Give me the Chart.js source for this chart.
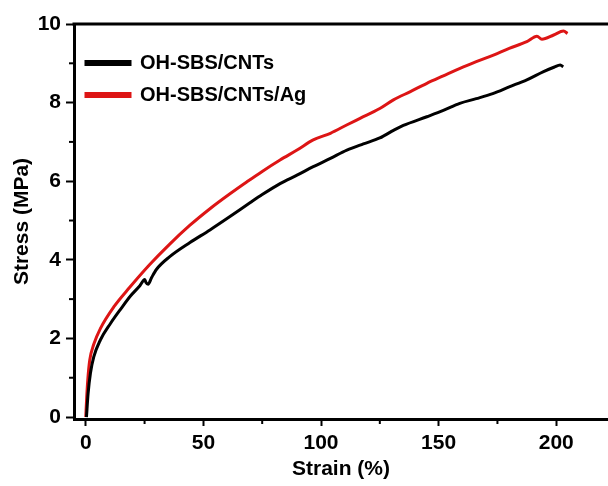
<!DOCTYPE html>
<html lang="en">
<head>
    <meta charset="UTF-8">
    <script src="https://cdn.jsdelivr.net/npm/chart.js@4.4.0/dist/chart.umd.min.js"></script>
    <title>Stress-strain</title>
    <style>
        body { margin: 0; background: #fff; }
        canvas { display: block; }
    </style>
</head>
<body>
    <canvas id="myChart" width="608" height="486"></canvas>
<script>
// curves: strain (%) and stress (MPa)
var strainCNT = [0.3, 1.0, 2.0, 3.4, 6.2, 10.5, 15, 19, 23, 25.1, 25.6, 26.5, 28, 30.1, 35.7, 44.3, 52.8, 61.3, 69.8, 75, 82.6, 90, 96.7, 104, 111, 118, 125, 131, 135, 145, 152, 159, 166, 173, 180, 187.5, 194.6, 199, 201.7, 203];
var stressCNT = [0, 0.6, 1.12, 1.53, 1.96, 2.38, 2.76, 3.08, 3.34, 3.5, 3.42, 3.38, 3.55, 3.76, 4.08, 4.44, 4.76, 5.1, 5.45, 5.66, 5.94, 6.16, 6.37, 6.58, 6.79, 6.95, 7.1, 7.3, 7.42, 7.64, 7.8, 7.98, 8.1, 8.23, 8.4, 8.58, 8.79, 8.9, 8.96, 8.91];

var strainAg = [0, 0.4, 0.85, 1.7, 3.4, 6.2, 11.9, 18.7, 27.2, 35.7, 44.3, 52.8, 61.3, 68.4, 75, 82.6, 90, 96.7, 104, 110.9, 116.6, 125, 130.8, 138, 145, 152, 159.1, 166, 173.3, 180, 187.5, 191.8, 193.9, 198.9, 203.1, 204.8];
var stressAg = [0, 0.5, 0.94, 1.45, 1.85, 2.25, 2.8, 3.3, 3.88, 4.4, 4.88, 5.3, 5.68, 5.98, 6.25, 6.54, 6.8, 7.05, 7.22, 7.43, 7.6, 7.85, 8.07, 8.28, 8.49, 8.68, 8.87, 9.04, 9.21, 9.38, 9.55, 9.69, 9.61, 9.72, 9.82, 9.76];

var xTicks = [0, 50, 100, 150, 200];
var xMinor = [25, 75, 125, 175];
var yTicks = [0, 2, 4, 6, 8, 10];
var yMinor = [1, 3, 5, 7, 9];

function toPoints(xs, ys) {
    return xs.map(function (x, i) { return { x: x, y: ys[i] }; });
}

var font = 'Liberation Sans, Arial, sans-serif';

// top border line and the short minor ticks
var framePlugin = {
    id: 'frame',
    afterDraw: function (chart) {
        var ctx = chart.ctx, a = chart.chartArea;
        var xs = chart.scales.x, ys = chart.scales.y;
        ctx.save();
        ctx.strokeStyle = '#000';
        ctx.lineWidth = 3;
        ctx.beginPath();
        ctx.moveTo(a.left - 1.5, a.top);
        ctx.lineTo(a.right, a.top);
        ctx.stroke();
        ctx.lineWidth = 2;
        xMinor.forEach(function (v) {
            var px = xs.getPixelForValue(v);
            ctx.beginPath();
            ctx.moveTo(px, a.bottom);
            ctx.lineTo(px, a.bottom + 5);
            ctx.stroke();
        });
        yMinor.forEach(function (v) {
            var py = ys.getPixelForValue(v);
            ctx.beginPath();
            ctx.moveTo(a.left, py);
            ctx.lineTo(a.left - 5, py);
            ctx.stroke();
        });
        ctx.restore();
    }
};

var ctx = document.getElementById('myChart').getContext('2d');
var chart = new Chart(ctx, {
    type: 'line',
    data: {
        datasets: [{
            label: 'OH-SBS/CNTs',
            data: toPoints(strainCNT, stressCNT),
            borderColor: '#000000',
            backgroundColor: '#000000',
            borderWidth: 3,
            pointRadius: 0,
            cubicInterpolationMode: 'monotone'
        }, {
            label: 'OH-SBS/CNTs/Ag',
            data: toPoints(strainAg, stressAg),
            borderColor: '#dd1515',
            backgroundColor: '#dd1515',
            borderWidth: 3,
            pointRadius: 0,
            cubicInterpolationMode: 'monotone'
        }]
    },
    options: {
        responsive: false,
        animation: false,
        devicePixelRatio: 1,
        layout: { padding: { left: 0, top: 24, right: 0, bottom: 0 } },
        plugins: {
            legend: {
                position: 'chartArea',
                align: 'start',
                // blank title only pushes the entries down into the plot
                title: { display: true, text: ' ', padding: { top: 0, bottom: 29 }, font: { size: 10 } },
                labels: {
                    boxWidth: 44,
                    boxHeight: 3,
                    padding: 12,
                    color: '#000',
                    font: { family: font, size: 20, weight: 'bold' }
                }
            },
            tooltip: { enabled: false }
        },
        scales: {
            x: {
                type: 'linear',
                min: -5,
                max: 222,
                afterBuildTicks: function (s) { s.ticks = xTicks.map(function (v) { return { value: v }; }); },
                afterFit: function (s) { s.height = 67; },
                border: { display: true, width: 3, color: '#000' },
                grid: { display: true, drawOnChartArea: false, drawTicks: true, tickLength: 7, tickWidth: 2, tickColor: '#000' },
                ticks: { color: '#000', padding: 5, maxRotation: 0, font: { family: font, size: 21, weight: 'bold' } },
                title: { display: true, text: 'Strain (%)', color: '#000', padding: { top: 0, bottom: 4 }, font: { family: font, size: 21, weight: 'bold' } }
            },
            y: {
                min: -0.05,
                max: 10,
                afterBuildTicks: function (s) { s.ticks = yTicks.map(function (v) { return { value: v }; }); },
                afterFit: function (s) { s.width = 74; },
                border: { display: true, width: 3, color: '#000' },
                grid: { display: true, drawOnChartArea: false, drawTicks: true, tickLength: 8, tickWidth: 2, tickColor: '#000' },
                ticks: { color: '#000', padding: 5, font: { family: font, size: 21, weight: 'bold' } },
                title: { display: true, text: 'Stress (MPa)', color: '#000', padding: { top: 10, bottom: 0 }, font: { family: font, size: 21, weight: 'bold' } }
            }
        }
    },
    plugins: [framePlugin]
});
</script>
</body>
</html>
